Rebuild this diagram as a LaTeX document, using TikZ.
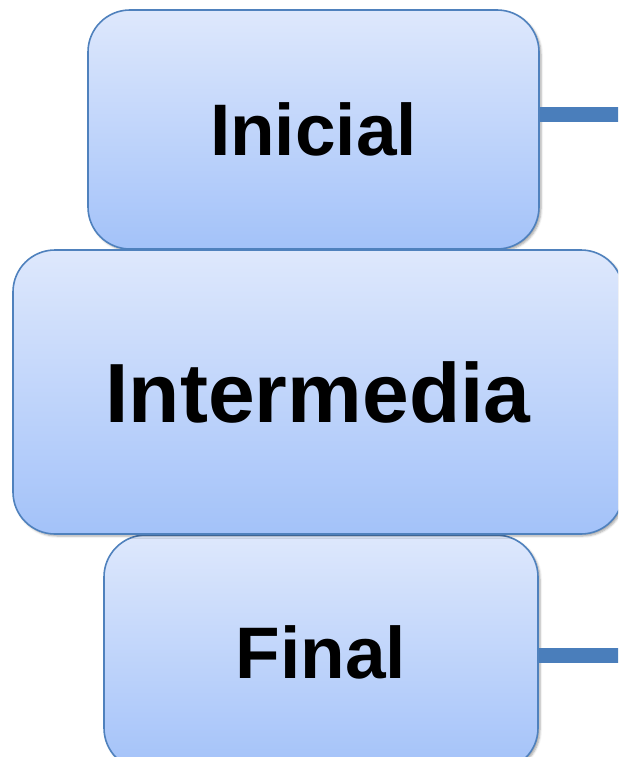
\documentclass[tikz,border=0pt]{standalone}
\usepackage{fontspec}
\setmainfont{Liberation Sans}
\usetikzlibrary{shadows.blur}
\definecolor{edge}{HTML}{4F81BD}
\definecolor{topfill}{HTML}{DEE8FC}
\definecolor{bottomfill}{HTML}{A3C2F9}
\definecolor{link}{HTML}{4A7EBB}
\tikzset{
  stagebox/.style={draw=edge,line width=1.6pt,rounded corners=42pt,
    top color=topfill,bottom color=bottomfill,inner sep=0pt,
    font=\bfseries,text=black,
    blur shadow={shadow xshift=2pt,shadow yshift=-2pt,shadow blur steps=4,shadow opacity=35}},
  bar/.style={draw=link,line width=15pt}
}
\begin{document}
\begin{tikzpicture}[x=1pt,y=-1pt]
  \useasboundingbox (0,0) rectangle (618,757);
  \clip (0,0) rectangle (618,757);

  % Stages, top to bottom.
  \node[stagebox,minimum width=451pt,minimum height=239pt] (inicial) at (313.5,129.5)
    {\fontsize{73}{80}\selectfont Inicial};
  \node[stagebox,minimum width=434pt,minimum height=235pt] (final) at (321,652.5)
    {\fontsize{73}{80}\selectfont Final};
  \node[stagebox,minimum width=610pt,minimum height=284pt] (intermedia) at (318,392)
    {\fontsize{84}{92}\selectfont Intermedia};

  % Bars running off to the right.
  \coordinate (inicialout) at (630,115);
  \coordinate (finalout) at (630,655);
  \draw[bar] (inicial.east |- inicialout) -- (inicialout);
  \draw[bar] (final.east |- finalout) -- (finalout);
\end{tikzpicture}
\end{document}
